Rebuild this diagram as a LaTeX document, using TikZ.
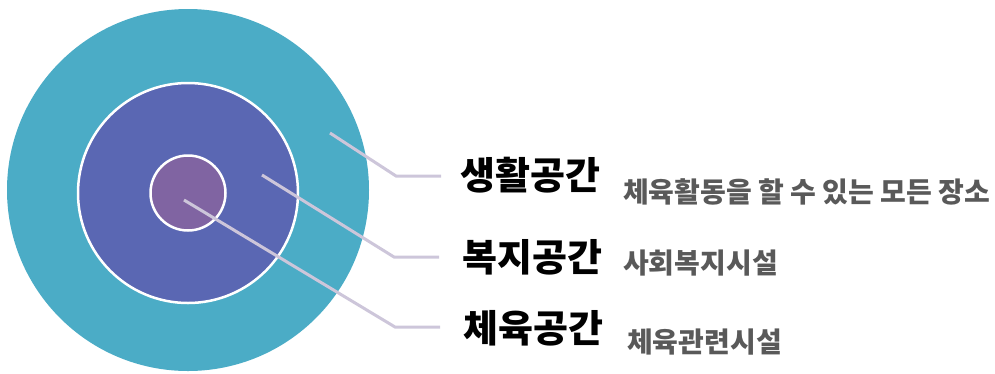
\documentclass[tikz,border=0pt]{standalone}
\usepackage{fontspec}
\newfontfamily\kr{Noto Sans CJK KR}
\definecolor{outerc}{HTML}{4BACC6}
\definecolor{midc}{HTML}{5A67B3}
\definecolor{innerc}{HTML}{8064A2}
\definecolor{linec}{HTML}{CDC6DA}
\definecolor{descc}{HTML}{595959}
\begin{document}
\begin{tikzpicture}[x=1pt,y=-1pt,
  ring/.style={circle,inner sep=0pt},
  leader/.style={draw=linec,line width=3pt},
  title/.style={anchor=west,inner sep=0pt,font=\kr\bfseries\fontsize{38}{44}\selectfont,text=black},
  desc/.style={anchor=west,inner sep=0pt,font=\kr\bfseries\fontsize{28}{32}\selectfont,text=descc}]
\useasboundingbox (0,0) rectangle (995,373);
\node[ring,fill=outerc,minimum size=362pt] (outer) at (188,190) {};
\node[ring,fill=midc,draw=white,line width=2.5pt,minimum size=220pt] (mid) at (188,193) {};
\node[ring,fill=innerc,draw=white,line width=2.5pt,minimum size=75pt] (inner) at (188,193) {};
\coordinate (s1) at (330,133);
\coordinate (k1) at (396,176);
\coordinate (e1) at (441,176);
\coordinate (s2) at (262,175);
\coordinate (k2) at (394,257);
\coordinate (e2) at (439,257);
\coordinate (s3) at (184,200);
\coordinate (k3) at (395,327);
\coordinate (e3) at (440,327);
\draw[leader] (s1) -- (k1) -- (e1);
\draw[leader] (s2) -- (k2) -- (e2);
\draw[leader] (s3) -- (k3) -- (e3);
\node[title] (t1) at (460,175) {생활공간};
\node[title] (t2) at (462,257) {복지공간};
\node[title] (t3) at (463,328) {체육공간};
\node[desc] (d1) at (623,192) {체육활동을 할 수 있는 모든 장소};
\node[desc] (d2) at (623,263) {사회복지시설};
\node[desc] (d3) at (627,342) {체육관련시설};
\end{tikzpicture}
\end{document}
